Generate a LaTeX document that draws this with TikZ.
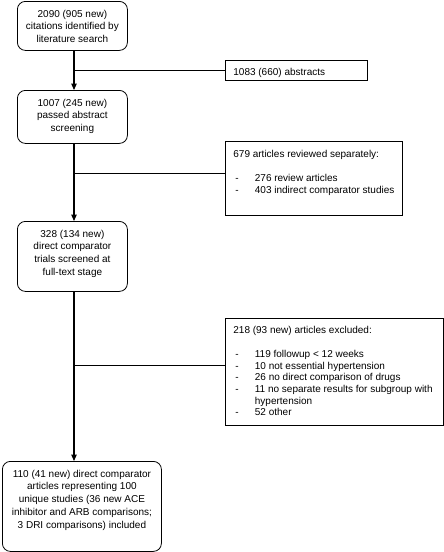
\documentclass[tikz,border=0pt]{standalone}
\usepackage{fontspec}
\setmainfont{Liberation Sans}
\usetikzlibrary{arrows.meta}
\newcommand{\bl}[1]{\hspace*{2pt}\makebox[19.5pt][l]{-}#1}
\newcommand{\cont}[1]{\hspace*{21.5pt}#1}
\tikzset{
  lbox/.style={draw, rounded corners=8pt, line width=0.8pt, inner sep=0pt, anchor=north west},
  rbox/.style={draw, line width=0.8pt, inner sep=0pt, anchor=north west},
  vflowarr/.style={line width=1.1pt, -{Triangle[length=6.5pt,width=5.5pt]}},
  hflow/.style={line width=0.8pt}
}
\newcommand{\lt}[3]{\parbox[c][#2pt][t]{#1pt}{\fontsize{10}{12.8}\selectfont\centering\rule{0pt}{15.6pt}#3\par}}
\newcommand{\rt}[4]{\parbox[c][#2pt][t]{#1pt}{\fontsize{10}{11.6}\selectfont\raggedright\rule{0pt}{#3pt}#4\par}}
\begin{document}
\begin{tikzpicture}[x=1pt,y=-1pt]
\useasboundingbox (0,0) rectangle (444,552);
% left flow boxes
\node[lbox] (b1) at (17,1) {\lt{110}{49}{2090 (905 new)\\citations identified by\\literature search}};
\node[lbox] (b2) at (17,90) {\lt{110}{53}{1007 (245 new)\\passed abstract\\screening}};
\node[lbox] (b3) at (17,221) {\lt{110}{70}{328 (134 new)\\direct comparator\\trials screened at\\full-text stage}};
\node[lbox] (b4) at (2,461) {\lt{159}{90}{110 (41 new) direct comparator\\articles representing 100\\unique studies (36 new ACE\\inhibitor and ARB comparisons;\\3 DRI comparisons) included}};
% right side boxes
\node[rbox] (r1) at (225,60) {\hspace*{8pt}\rt{134}{20}{14.6}{1083 (660) abstracts}};
\node[rbox] (r2) at (225,141) {\hspace*{8pt}\rt{169}{74}{15.6}{679 articles reviewed separately:\\[13pt]
\bl{276 review articles}\\
\bl{403 indirect comparator studies}}};
\node[rbox] (r3) at (225,318) {\hspace*{8pt}\rt{210}{107}{14.6}{218 (93 new) articles excluded:\\[13pt]
\bl{119 followup < 12 weeks}\\
\bl{10 not essential hypertension}\\
\bl{26 no direct comparison of drugs}\\
\bl{11 no separate results for subgroup with}\\
\cont{hypertension}\\
\bl{52 other}}};
% junction coordinates
\coordinate (j1) at (74,70);
\coordinate (j2) at (74,173);
\coordinate (j3) at (74,365);
% connectors
\draw[vflowarr] (b1.south -| j1) -- (b2.north -| j1);
\draw[vflowarr] (b2.south -| j2) -- (b3.north -| j2);
\draw[vflowarr] (b3.south -| j3) -- (b4.north -| j3);
\draw[hflow] (j1) -- (j1 -| r1.west);
\draw[hflow] (j2) -- (j2 -| r2.west);
\draw[hflow] (j3) -- (j3 -| r3.west);
\end{tikzpicture}
\end{document}
